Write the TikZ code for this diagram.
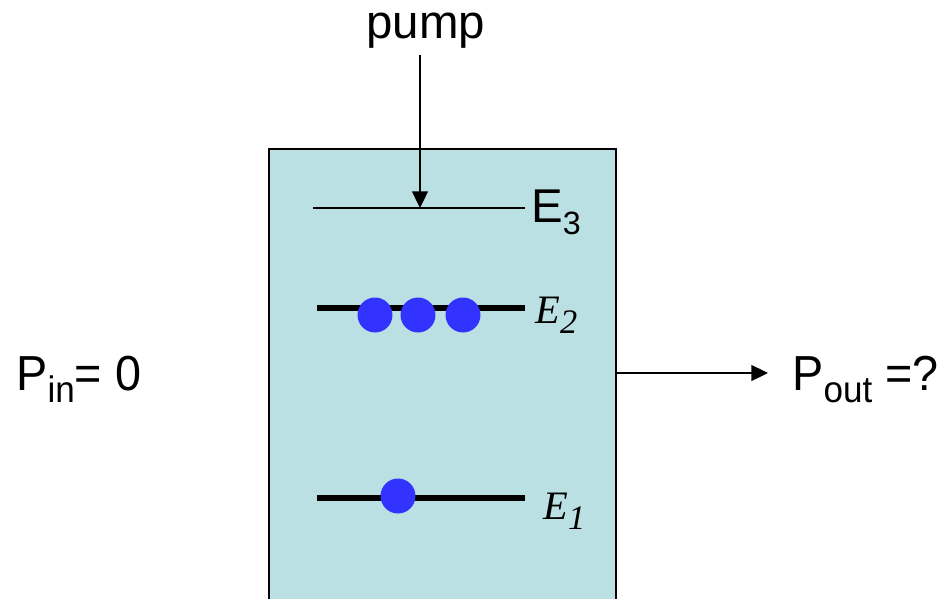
\documentclass[tikz,border=0pt]{standalone}
\usepackage{graphicx}
\usepackage{fontspec}
\setmainfont{Liberation Sans}
\newfontfamily\narrowsans[FakeStretch=0.95]{Liberation Sans}
\newfontfamily\timesfont{Liberation Serif}
\usetikzlibrary{arrows.meta}
\definecolor{cellfill}{RGB}{187,224,227}
\definecolor{dotblue}{RGB}{51,51,255}
\newcommand\subtxt[2][0.75]{\raisebox{-0.26em}{\scalebox{#1}{#2}}}

\begin{document}
\begin{tikzpicture}[x=0.02cm, y=-0.02cm,
    lvl/.style={line width=3.4pt},
    dot/.style={circle, fill=dotblue, inner sep=0pt, minimum size=0.7cm},
    sans/.style={inner sep=0pt, anchor=base west, font=\fontsize{28}{30}\selectfont\narrowsans},
    ital/.style={inner sep=0pt, anchor=base west, font=\fontsize{23}{25}\selectfont\timesfont\itshape},
    tip/.style={-{Triangle[length=9.5pt, width=9pt]}}]
    \useasboundingbox (0,0) rectangle (938,599);
    \node[draw, fill=cellfill, line width=1.2pt, inner sep=0pt, anchor=north west,
        minimum width=6.94cm, minimum height=10cm] (cell) at (268,148) {};
    \node[sans, font=\fontsize{27}{29}\selectfont] (pump) at (366,38) {pump};
    \coordinate (e3a) at (313,208); \coordinate (e3b) at (525,208); \coordinate (e3m) at (420,208);
    \coordinate (e2a) at (317,308); \coordinate (e2b) at (525,308);
    \coordinate (e1a) at (317,498); \coordinate (e1b) at (525,498);
    \draw[line width=1.6pt] (e3a) -- (e3b);
    \draw[lvl] (e2a) -- (e2b);
    \draw[lvl] (e1a) -- (e1b);
    \draw[tip, line width=1.1pt, shorten <=4pt] (pump.south -| e3m) -- (e3m);% pump arrow
    \node[dot] (d1) at (375,315) {};
    \node[dot] (d2) at (418,315) {};
    \node[dot] (d3) at (463,315) {};
    \node[dot] (d4) at (398,496) {};
    \node[sans, font=\fontsize{27}{29}\selectfont] (e3) at (531,222) {E\subtxt[0.68]{3}};
    \node[ital] (e2) at (535,323) {E\subtxt[0.85]{2}};
    \node[ital] (e1) at (543,519) {E\subtxt[0.85]{1}};
    \node[sans] (pin) at (16,390) {P\subtxt{in}= 0};
    \node[sans] (pout) at (792,390) {P\subtxt{out} =?};
    \coordinate (outtip) at (768,373);
    \draw[tip, line width=1.1pt] (cell.east |- outtip) -- (outtip);
\end{tikzpicture}
\end{document}
